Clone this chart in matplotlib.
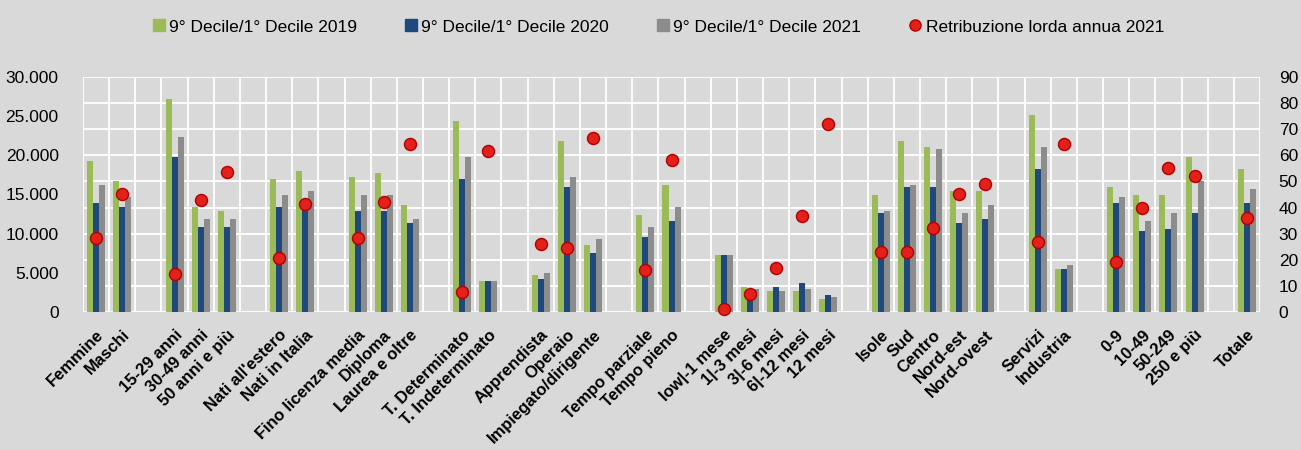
import numpy as np
import matplotlib
matplotlib.use("Agg")
import matplotlib.pyplot as plt
from matplotlib.lines import Line2D
from matplotlib.ticker import FuncFormatter, MultipleLocator

plt.rcParams["font.family"] = ["Liberation Sans", "DejaVu Sans"]

# categories split into groups (a blank slot separates groups)
groups = [
    ["Femmine", "Maschi"],
    ["15-29 anni", "30-49 anni", "50 anni e più"],
    ["Nati all'estero", "Nati in Italia"],
    ["Fino licenza media", "Diploma", "Laurea e oltre"],
    ["T. Determinato", "T. Indeterminato"],
    ["Apprendista", "Operaio", "Impiegato/dirigente"],
    ["Tempo parziale", "Tempo pieno"],
    ["low|-1 mese", "1|-3 mesi", "3|-6 mesi", "6|-12 mesi", "12 mesi"],
    ["Isole", "Sud", "Centro", "Nord-est", "Nord-ovest"],
    ["Servizi", "Industria"],
    ["0-9", "10-49", "50-249", "250 e più"],
    ["Totale"],
]

ratio_2019 = [57.7, 50.0, 81.4, 40.2, 38.7, 50.8, 53.9, 51.6, 53.1, 41.0,
              73.0, 12.0, 14.3, 65.4, 25.7, 37.0, 48.5,
              21.8, 9.7, 8.2, 8.2, 5.1, 44.8, 65.4, 63.1, 46.2, 46.2,
              75.3, 16.5, 47.7, 44.8, 44.8, 59.2, 54.6]
ratio_2020 = [41.7, 40.2, 59.2, 32.6, 32.6, 40.2, 40.2, 38.7, 38.7, 34.1,
              50.8, 12.0, 12.8, 47.7, 22.6, 28.7, 34.9,
              21.8, 8.9, 9.7, 11.2, 6.6, 37.9, 47.7, 47.7, 34.1, 35.6,
              54.6, 16.5, 41.7, 31.0, 31.8, 37.9, 41.7]
ratio_2021 = [48.6, 44.0, 67.0, 35.6, 35.6, 44.8, 46.3, 44.8, 44.8, 35.6,
              59.2, 12.0, 15.1, 51.6, 28.0, 32.6, 40.2,
              21.8, 8.9, 8.2, 8.9, 5.9, 38.7, 48.5, 62.3, 37.9, 41.0,
              63.1, 18.0, 44.0, 34.9, 37.9, 50.0, 47.0]
retribuzione_2021 = [9500, 15100, 4900, 14300, 17900, 6900, 13800, 9500, 14000, 21400,
                     2600, 20600, 8700, 8200, 22200, 5400, 19400,
                     340, 2340, 5660, 12250, 24000, 7700, 7700, 10700, 15060, 16340,
                     8980, 21400, 6430, 13280, 18380, 17360, 12000]

series_labels = ["9° Decile/1° Decile 2019", "9° Decile/1° Decile 2020",
                 "9° Decile/1° Decile 2021", "Retribuzione lorda annua 2021"]
colors = ["#9BBB59", "#1F497D", "#8C8C8C"]
dot_color = "#E3201B"
bg = "#D9D9D9"

# slot positions: each group followed by an empty slot
labels, pos = [], []
slot = 0
for g in groups:
    for name in g:
        labels.append(name)
        pos.append(slot)
        slot += 1
    slot += 1
n_slots = slot - 1
pos = np.array(pos)

fig = plt.figure(figsize=(13.01, 4.5), dpi=100, facecolor=bg)
ax = fig.add_axes([0.0638, 0.3067, 0.9047, 0.5222])
ax.set_facecolor(bg)

w = 0.23
for i, (vals, c) in enumerate(zip([ratio_2019, ratio_2020, ratio_2021], colors)):
    ax.bar(pos + (i - 1) * w, vals, width=w, color=c, zorder=2)

ax.set_xlim(-0.5, n_slots - 0.5)
ax.set_ylim(0, 90)
ax.yaxis.set_major_locator(MultipleLocator(10))
ax.set_xticks(pos)
ax.set_xticklabels(labels, rotation=45, ha="right", rotation_mode="anchor",
                   fontsize=12, fontweight="bold")
ax.set_xticks(np.arange(-0.5, n_slots, 1.0), minor=True)
ax.grid(True, which="minor", axis="x", color="white", linewidth=1.3, zorder=0)
ax.grid(True, which="major", axis="y", color="white", linewidth=1.3, zorder=0)
ax.tick_params(axis="x", which="both", length=0, pad=11)
for s in ax.spines.values():
    s.set_visible(False)

ax2 = ax.twinx()
ax2.scatter(pos, retribuzione_2021, s=75, color=dot_color, edgecolor="#B00000",
            linewidth=1.0, zorder=5, clip_on=False)
ax2.set_ylim(0, 30000)
ax2.yaxis.set_major_locator(MultipleLocator(5000))
ax2.yaxis.set_major_formatter(FuncFormatter(lambda v, p: f"{int(v):,}".replace(",", ".")))
for s in ax2.spines.values():
    s.set_visible(False)

# ratio axis on the right, euro axis on the left
ax.yaxis.tick_right()
ax2.yaxis.tick_left()
ax.tick_params(axis="y", which="both", left=False, right=False, labelleft=False,
               labelright=True, labelsize=12.5, pad=10)
ax2.tick_params(axis="y", which="both", left=False, right=False, labelleft=True,
                labelright=False, labelsize=12.5, pad=14)

handles = [Line2D([], [], marker="s", linestyle="none", color=c, markersize=8) for c in colors]
handles.append(Line2D([], [], marker="o", linestyle="none", color=dot_color,
                      markeredgecolor="#B00000", markersize=8))
fig.legend(handles, series_labels, loc="center", bbox_to_anchor=(0.505, 0.94), ncol=4,
           frameon=False, fontsize=12.5, columnspacing=2.6, handletextpad=0.1,
           handlelength=1.0)

fig.savefig("out.png", dpi=100, facecolor=bg)
